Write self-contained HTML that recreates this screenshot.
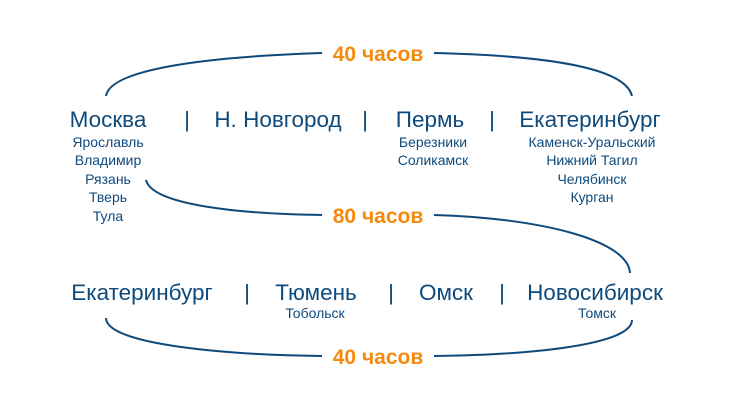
<!DOCTYPE html>
<html><head><meta charset="utf-8"><style>
html,body{margin:0;padding:0;background:#fff;}
svg{display:block;}
text{font-family:"Liberation Sans","DejaVu Sans",sans-serif;}
.m{font-size:22.5px;fill:#0e4a7c;text-anchor:middle;}
.s{font-size:14px;fill:#0e4a7c;text-anchor:middle;}
.o{font-size:21px;font-weight:bold;fill:#f58a0c;text-anchor:middle;}
path{fill:none;stroke:#0e4a7c;stroke-width:2;}
</style></head><body>
<svg width="751" height="409" viewBox="0 0 751 409">
<path d="M106,96 C110,70 200,57 322,53"/>
<path d="M434,53 C560,56 626,70 632,96"/>
<text class="o" x="378" y="61">40 часов</text>

<text class="m" x="108" y="127">Москва</text>
<text class="m" x="187" y="127">|</text>
<text class="m" x="278" y="127">Н. Новгород</text>
<text class="m" x="365" y="127">|</text>
<text class="m" x="430" y="127">Пермь</text>
<text class="m" x="492" y="127">|</text>
<text class="m" x="590" y="127">Екатеринбург</text>

<text class="s" x="108" y="147">Ярославль</text>
<text class="s" x="108" y="165">Владимир</text>
<text class="s" x="108" y="184">Рязань</text>
<text class="s" x="108" y="202">Тверь</text>
<text class="s" x="108" y="221">Тула</text>

<text class="s" x="433" y="147">Березники</text>
<text class="s" x="433" y="165">Соликамск</text>

<text class="s" x="592" y="147">Каменск-Уральский</text>
<text class="s" x="592" y="165">Нижний Тагил</text>
<text class="s" x="592" y="184">Челябинск</text>
<text class="s" x="592" y="202">Курган</text>

<path d="M146,180 C152,205 240,214 322,215"/>
<path d="M434,215 C540,218 628,240 630,273"/>
<text class="o" x="378" y="223">80 часов</text>

<text class="m" x="142" y="300">Екатеринбург</text>
<text class="m" x="247" y="300">|</text>
<text class="m" x="316" y="300">Тюмень</text>
<text class="m" x="391" y="300">|</text>
<text class="m" x="446" y="300">Омск</text>
<text class="m" x="502" y="300">|</text>
<text class="m" x="595" y="300">Новосибирск</text>

<text class="s" x="315" y="318">Тобольск</text>
<text class="s" x="597" y="318">Томск</text>

<path d="M106,318 C106,345 230,355 322,356"/>
<path d="M434,356 C530,355 632,345 632,320"/>
<text class="o" x="378" y="364">40 часов</text>
</svg>
</body></html>
